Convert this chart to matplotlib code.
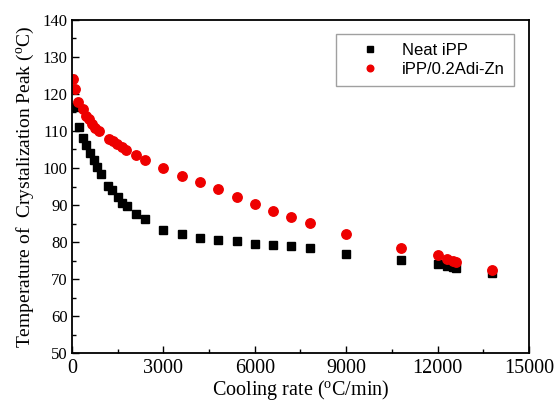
import matplotlib
matplotlib.use("Agg")
import matplotlib.pyplot as plt
from matplotlib.ticker import MultipleLocator

# Data
neat_x = [100, 220, 350, 460, 590, 710, 820, 950, 1190, 1300, 1500, 1650, 1790, 2090, 2400,
          3000, 3600, 4200, 4800, 5400, 6000, 6600, 7200, 7800, 9000, 10800, 12000, 12300,
          12500, 12600, 13800]
neat_y = [116.6, 111.1, 108.0, 106.2, 104.1, 102.1, 100.4, 98.3, 95.2, 94.1, 92.2, 90.5, 89.8,
          87.6, 86.2, 83.3, 82.2, 81.2, 80.5, 80.3, 79.6, 79.3, 78.8, 78.3, 76.9, 75.2, 74.2,
          73.6, 73.3, 72.9, 71.7]

adi_x = [40, 100, 200, 350, 460, 550, 660, 770, 900, 1210, 1340, 1480, 1630, 1780, 2090, 2400,
         3000, 3600, 4200, 4800, 5400, 6000, 6600, 7200, 7800, 9000, 10800, 12000, 12300,
         12500, 12600, 13800]
adi_y = [124.1, 121.4, 117.8, 115.8, 114.1, 113.1, 112.0, 110.9, 109.9, 107.9, 107.3, 106.5,
         105.7, 104.8, 103.5, 102.2, 100.1, 97.9, 96.1, 94.2, 92.2, 90.3, 88.5, 86.9, 85.1, 82.2,
         78.3, 76.6, 75.4, 74.9, 74.7, 72.4]

labels = ["Neat iPP", "iPP/0.2Adi-Zn"]
x_ticks = [0, 3000, 6000, 9000, 12000, 15000]
y_ticks = [50, 60, 70, 80, 90, 100, 110, 120, 130, 140]

serif = ["Liberation Serif", "DejaVu Serif"]
sans = ["Liberation Sans", "DejaVu Sans"]

fig = plt.figure(figsize=(5.58, 4.05), dpi=100)
ax = fig.add_axes([0.129, 0.128, 0.819, 0.823])

ax.plot(neat_x, neat_y, linestyle="none", marker="s", ms=6.2, color="black",
        markeredgecolor="black", label=labels[0])
ax.plot(adi_x, adi_y, linestyle="none", marker="o", ms=6.8, color="#ee0000",
        markeredgecolor="#ee0000", label=labels[1])

ax.set_xlim(0, 15000)
ax.set_ylim(50, 140)
ax.set_xticks(x_ticks)
ax.set_yticks(y_ticks)
ax.xaxis.set_minor_locator(MultipleLocator(1500))
ax.yaxis.set_minor_locator(MultipleLocator(5))
ax.tick_params(which="both", direction="in", top=False, right=False, width=1.0)
ax.tick_params(which="major", length=5)
ax.tick_params(which="minor", length=3)
ax.tick_params(axis="x", pad=4)
ax.tick_params(axis="y", pad=3)
for lab in ax.get_xticklabels():
    lab.set_fontfamily(serif)
    lab.set_fontsize(14.5)
for lab in ax.get_yticklabels():
    lab.set_fontfamily(serif)
    lab.set_fontsize(12)
for s in ax.spines.values():
    s.set_linewidth(1.3)

ax.set_xlabel("Cooling rate ($\\mathregular{^{o}}$C/min)", fontfamily=serif, fontsize=14.5,
              labelpad=0)
ax.set_ylabel("Temperature of  Crystalization Peak ($\\mathregular{^{o}}$C)", fontfamily=serif,
              fontsize=14, labelpad=5)

leg = ax.legend(loc="upper right", bbox_to_anchor=(0.967, 0.958), frameon=True,
                fancybox=False, edgecolor="#888888", prop={"family": sans, "size": 12},
                markerscale=0.7, handletextpad=0.4, borderpad=0.55, labelspacing=0.25,
                handlelength=3.0, borderaxespad=0)
leg.get_frame().set_linewidth(1.0)

fig.savefig("out.png", dpi=100)
